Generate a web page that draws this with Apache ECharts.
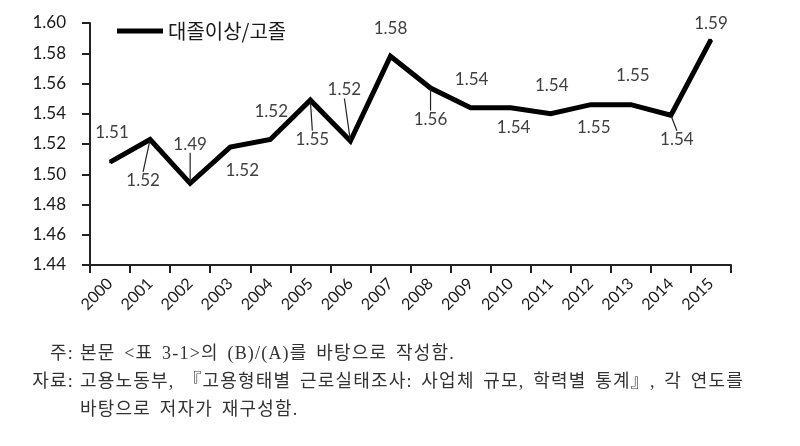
<!DOCTYPE html>
<html>
<head>
<meta charset="utf-8">
<script src="https://cdn.jsdelivr.net/npm/echarts@6/dist/echarts.min.js"></script>
<style>
  html, body { margin: 0; padding: 0; background: #fff; }
  #wrap { position: relative; width: 800px; height: 446px; }
  #chart { width: 800px; height: 446px; }
  .note { position: absolute; font-family: "Liberation Serif", "Noto Sans CJK KR", serif;
    font-size: 18px; color: #333; white-space: nowrap; line-height: 20px;
    letter-spacing: 1.2px; word-spacing: 3px; }
</style>
</head>
<body>
<div id="wrap">
  <div id="chart"></div>
</div>
<script>
// 데이터
const years = ['2000', '2001', '2002', '2003', '2004', '2005', '2006', '2007',
  '2008', '2009', '2010', '2011', '2012', '2013', '2014', '2015']
const ratio = [1.508, 1.523, 1.494, 1.518, 1.523, 1.549, 1.522, 1.578,
  1.557, 1.544, 1.544, 1.540, 1.546, 1.546, 1.539, 1.589]
const seriesName = '대졸이상/고졸'
const noteLines = [
  ['주:', '본문 <표 3-1>의 (B)/(A)를 바탕으로 작성함.'],
  ['자료:', '고용노동부, 『고용형태별 근로실태조사: 사업체 규모, 학력별 통계』, 각 연도를'],
  ['', '바탕으로 저자가 재구성함.']
]

// 라벨 위치 (엑셀 원본처럼 점 옆으로 이동)
const labelShift = [[2, -30], [-7, 41], [0, -39], [12, 23], [1, -28], [2, 39],
  [-6, -51], [0, -28], [0, 31], [1, -28], [3, 20], [1, -28], [3, 23], [2, -29],
  [6, 24], [0, -16]]
// 지시선 있는 라벨
const leader = [false, true, true, false, false, true, true, false,
  true, false, false, false, false, false, true, false]

const font = 'Lato, "Noto Sans CJK KR", sans-serif'

// 주석 (html 텍스트)
const wrap = document.getElementById('wrap')
noteLines.forEach((ln, i) => {
  const y = 343 + i * 28
  if (ln[0]) {
    const k = document.createElement('div')
    k.className = 'note'
    k.style.top = y + 'px'
    k.style.right = (800 - 74) + 'px'
    k.textContent = ln[0]
    wrap.appendChild(k)
  }
  const d = document.createElement('div')
  d.className = 'note'
  d.style.top = y + 'px'
  d.style.left = '80px'
  d.textContent = ln[1]
  wrap.appendChild(d)
})

const chart = echarts.init(document.getElementById('chart'))

const option = {
  backgroundColor: '#fff',
  animation: false,
  grid: { left: 90, right: 69, top: 23, bottom: 181, containLabel: false },
  legend: {
    left: 112, top: 16,
    icon: 'rect', itemWidth: 46, itemHeight: 5, itemGap: 10,
    textStyle: { fontFamily: '"Noto Sans CJK KR"', fontSize: 20, color: '#1a1a1a' },
    data: [seriesName]
  },
  xAxis: {
    type: 'category',
    data: years,
    boundaryGap: true,
    axisLine: { lineStyle: { color: '#222', width: 2 } },
    axisTick: { show: true, length: 8, lineStyle: { color: '#222', width: 2 } },
    axisLabel: { rotate: 45, margin: 16, fontFamily: font, fontSize: 16, color: '#1a1a1a', interval: 0 }
  },
  yAxis: {
    type: 'value',
    min: 1.44, max: 1.60, interval: 0.02,
    splitLine: { show: false },
    axisLine: { show: true, lineStyle: { color: '#222', width: 2 } },
    axisTick: { show: true, length: 8, lineStyle: { color: '#222', width: 2 } },
    axisLabel: {
      margin: 24, fontFamily: font, fontSize: 17, color: '#1a1a1a',
      formatter: v => v.toFixed(2)
    }
  },
  series: [{
    name: seriesName,
    type: 'line',
    symbol: 'circle',
    symbolSize: 2,
    showSymbol: true,
    itemStyle: { color: '#000' },
    lineStyle: { color: '#000', width: 5, join: 'miter' },
    label: {
      show: true, position: 'inside',
      fontFamily: font, fontSize: 17, color: '#404040',
      formatter: p => p.value.toFixed(2)
    },
    labelLine: { show: true, length2: 0, lineStyle: { color: '#222', width: 1.2 } },
    labelLayout: p => ({ dx: labelShift[p.dataIndex][0], dy: labelShift[p.dataIndex][1] }),
    data: ratio.map((v, i) => ({
      value: v,
      labelLine: { show: leader[i] }
    }))
  }]
}

chart.setOption(option)
</script>
</body>
</html>
